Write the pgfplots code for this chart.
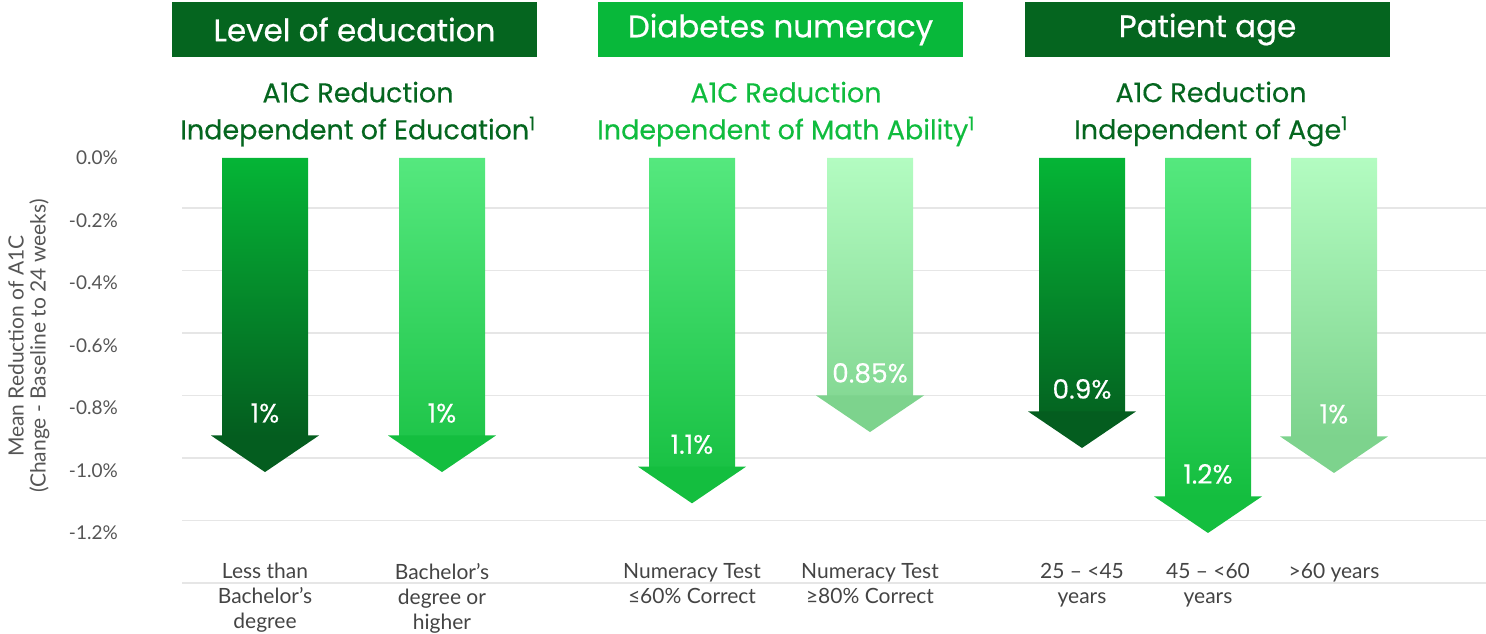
\documentclass[border=0pt]{standalone}
\usepackage{pgfplots}
\pgfplotsset{compat=1.18}
\usepackage{pgfplotstable}
\usepackage{fontspec}
\setmainfont{Lato}
\newfontfamily\pop{Poppins}[FakeBold=0.6]
\newfontfamily\popl{Poppins}[FakeBold=0.3]

\definecolor{boxdark}{HTML}{05651F}
\definecolor{boxbright}{HTML}{08B83A}
\definecolor{subdark}{HTML}{05661F}
\definecolor{subbright}{HTML}{10BC3E}
\definecolor{dkT}{HTML}{05B536}
\definecolor{dkB}{HTML}{045D1F}
\definecolor{mdT}{HTML}{55E87E}
\definecolor{mdB}{HTML}{14BE3F}
\definecolor{ltT}{HTML}{B3FCC1}
\definecolor{ltB}{HTML}{7DD38D}
\definecolor{gridc}{HTML}{E6E6E6}
\definecolor{tickc}{HTML}{555555}
\definecolor{catc}{HTML}{444444}

\pgfdeclareplotmark{darrow}{%
  \pgfpathmoveto{\pgfpoint{-54pt}{36.6pt}}%
  \pgfpathlineto{\pgfpoint{54pt}{36.6pt}}%
  \pgfpathlineto{\pgfpoint{0pt}{0pt}}%
  \pgfpathclose
  \pgfusepath{fill}}

% x = category position, y = arrow tip (negative reduction), lab = printed value
\pgfplotstableread{
x y lab
265 -1.005 1
1082 -0.928 0.9
}\darkdata
\pgfplotstableread{
x y lab
442 -1.005 1
692 -1.105 1.1
1208 -1.2 1.2
}\meddata
\pgfplotstableread{
x y lab
870 -0.877 0.85
1334 -1.008 1
}\lightdata

\pgfplotsset{
  shaft/.style={ybar, bar width=86pt, draw=none, y filter/.expression={y+0.1152}},
  head/.style={only marks, mark=darrow, mark options={draw=none, fill=#1},
    point meta=explicit symbolic,
    nodes near coords={\pgfplotspointmeta\%},
    nodes near coords style={anchor=center, yshift=59pt, text=white, inner sep=0pt,
      font=\popl\fontsize{26.5}{30}\selectfont}},
}

\begin{document}
\begin{tikzpicture}
\useasboundingbox (0,0) rectangle (1486pt,634pt);
\begin{axis}[
  at={(182pt,38.5pt)}, anchor=south west,
  scale only axis, width=1304pt, height=437.5pt,
  xmin=182, xmax=1486, ymin=-1.4, ymax=0,
  clip=false,
  axis line style={draw=none},
  tick style={draw=none},
  ytick={0,-0.2,-0.4,-0.6,-0.8,-1,-1.2},
  yticklabels={0.0\%,-0.2\%,-0.4\%,-0.6\%,-0.8\%,-1.0\%,-1.2\%},
  yticklabel style={anchor=east, inner sep=0pt, xshift=-64pt, text=tickc,
    font=\fontsize{19}{22}\selectfont},
  extra y ticks={-0.16,-0.36,-0.56,-0.76,-0.96,-1.16,-1.36},
  extra y tick labels={},
  extra y tick style={grid=major, major grid style={draw=gridc, line width=1.5pt}},
  xtick={265,442,692,870,1082,1208,1334},
  xticklabels={{Less than\\Bachelor’s\\degree},{Bachelor’s\\degree or\\higher},
    {Numeracy Test\\≤60\% Correct},{Numeracy Test\\≥80\% Correct},
    {25 – <45\\years},{45 – <60\\years},{>60 years}},
  xticklabel style={align=center, anchor=north, inner sep=0pt, yshift=32.5pt,
    text=catc, font=\fontsize{21}{25}\selectfont},
  ylabel={Mean Reduction of A1C\\(Change - Baseline to 24 weeks)},
  ylabel style={align=center, at={(axis description cs:-0.1175,0.570)}, anchor=center,
    text=tickc, font=\fontsize{21}{22}\selectfont},
]
\addplot[shaft, top color=dkT, bottom color=dkB] table[x=x,y=y]{\darkdata};
\addplot[head=dkB] table[x=x,y=y,meta=lab]{\darkdata};
\addplot[shaft, top color=mdT, bottom color=mdB] table[x=x,y=y]{\meddata};
\addplot[head=mdB] table[x=x,y=y,meta=lab]{\meddata};
\addplot[shaft, top color=ltT, bottom color=ltB] table[x=x,y=y]{\lightdata};
\addplot[head=ltB] table[x=x,y=y,meta=lab]{\lightdata};
\end{axis}

\tikzset{ttl/.style={minimum width=365pt, minimum height=55pt, inner sep=0pt, text=white,
  font=\pop\fontsize{31}{36}\selectfont},
  sub/.style={align=center, inner sep=0pt, font=\popl\fontsize{27}{37}\selectfont}}
\node[ttl, fill=boxdark] at (354.5pt,604.5pt) {Level of education};
\node[ttl, fill=boxbright] at (780.5pt,604.5pt) {Diabetes numeracy};
\node[ttl, fill=boxdark] at (1207.5pt,604.5pt) {Patient age};
\node[sub, text=subdark] at (358pt,520pt) {A1C Reduction\\Independent of Education\textsuperscript{1}};
\node[sub, text=subbright] at (786pt,520pt) {A1C Reduction\\Independent of Math Ability\textsuperscript{1}};
\node[sub, text=subdark] at (1211pt,520pt) {A1C Reduction\\Independent of Age\textsuperscript{1}};
\end{tikzpicture}
\end{document}
